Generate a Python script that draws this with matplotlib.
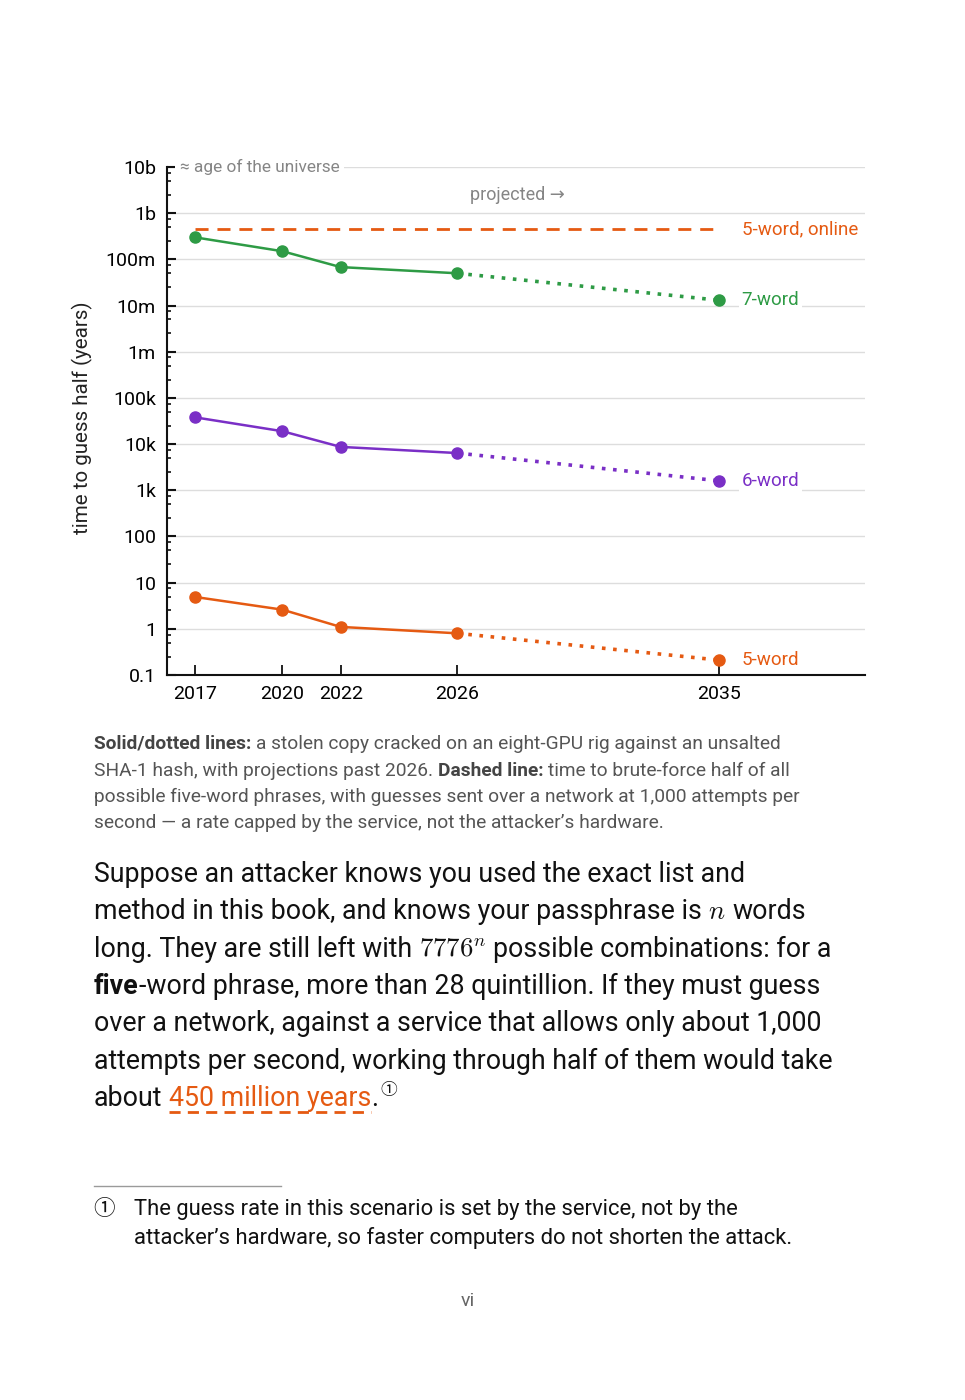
import matplotlib
matplotlib.use('Agg')
import matplotlib.pyplot as plt
import matplotlib.ticker as mticker
from matplotlib.lines import Line2D

plt.rcParams['font.family'] = ['Roboto', 'DejaVu Sans', 'Noto Sans CJK SC']
plt.rcParams['mathtext.fontset'] = 'cm'

# data (years to guess half the space)
years = [2017, 2020, 2022, 2026, 2035]
five_word = [4.9, 2.6, 1.1, 0.8, 0.21]
six_word = [3.8e4, 1.9e4, 8.7e3, 6.4e3, 1.6e3]
seven_word = [3.0e8, 1.5e8, 6.8e7, 5.0e7, 1.3e7]
online_5word = 4.5e8
ytick_vals = [0.1, 1, 10, 100, 1e3, 1e4, 1e5, 1e6, 1e7, 1e8, 1e9, 1e10]
ytick_labels = ['0.1', '1', '10', '100', '1k', '10k', '100k', '1m', '10m', '100m', '1b', '10b']

GREEN = '#2e9b45'
PURPLE = '#7a2fc6'
ORANGE = '#e55a12'
GREY = '#858585'

W, H = 965, 1400
fig = plt.figure(figsize=(W / 100, H / 100), dpi=100)
ax = fig.add_axes([167 / W, 1 - 675 / H, (865 - 167) / W, (675 - 167) / H])
ax.set_yscale('log')
ax.set_ylim(0.1, 1e10)
ax.set_xlim(2016.04, 2040)

for vals, col, name in [(seven_word, GREEN, '7-word'), (six_word, PURPLE, '6-word'), (five_word, ORANGE, '5-word')]:
    ax.plot(years[:4], vals[:4], color=col, lw=1.8, zorder=3)
    ax.plot(years[3:], vals[3:], color=col, lw=2.6, ls=(0, (1, 2.1)), zorder=3)
    ax.plot(years, vals, 'o', color=col, ms=8, zorder=4)
    ax.annotate(name, xy=(years[-1], vals[-1]), xytext=(16, 0), textcoords='offset points',
                va='center', ha='left', color=col, fontsize=13.5,
                bbox=dict(boxstyle='square,pad=0.15', fc='white', ec='none'))

ax.plot([years[0], years[-1]], [online_5word, online_5word], color=ORANGE, lw=2, dashes=(4.7, 3.2), zorder=3)
ax.annotate('5-word, online', xy=(years[-1], online_5word), xytext=(16, 0), textcoords='offset points',
            va='center', ha='left', color=ORANGE, fontsize=13.5)

ax.annotate('≈ age of the universe', xy=(0, 1e10), xycoords=('axes fraction', 'data'),
            xytext=(9, 0), textcoords='offset points', va='center', ha='left', color=GREY,
            fontsize=12.4, bbox=dict(boxstyle='square,pad=0.25', fc='white', ec='none'), zorder=5)
ax.text(2026.45, 2.5e9, 'projected →', color=GREY, fontsize=13, va='center', ha='left')

ax.yaxis.set_major_locator(mticker.FixedLocator(ytick_vals))
ax.yaxis.set_major_formatter(mticker.FixedFormatter(ytick_labels))
ax.yaxis.set_minor_locator(mticker.FixedLocator([m * 10.0 ** k for k in range(-1, 10) for m in (2.5, 5, 7.5)]))
ax.yaxis.set_minor_formatter(mticker.NullFormatter())
ax.set_xticks(years)
ax.set_xticklabels([str(y) for y in years])
ax.tick_params(axis='y', which='major', direction='in', length=6.5, width=1.5, labelsize=14, pad=8, color='#111')
ax.tick_params(axis='y', which='minor', direction='in', length=3.2, width=1.2, color='#111')
ax.tick_params(axis='x', direction='in', length=7, width=1.3, labelsize=14, pad=7, color='#111')

ax.grid(axis='y', which='major', color='#dddddd', lw=1)
ax.set_axisbelow(True)
for s in ['top', 'right']:
    ax.spines[s].set_visible(False)
for s in ['left', 'bottom']:
    ax.spines[s].set_linewidth(1.5)
    ax.spines[s].set_color('#111')

fig.text(82 / W, 1 - 418 / H, 'time to guess half (years)', rotation=90, ha='center', va='center',
         fontsize=14.8, color='#222')

# ---- text below the chart ----
r = fig.canvas.get_renderer()


def space_width(size, **kw):
    a = fig.text(0, 0, 'x x', fontsize=size, **kw)
    b = fig.text(0, 0, 'xx', fontsize=size, **kw)
    w = a.get_window_extent(r).width - b.get_window_extent(r).width
    a.remove()
    b.remove()
    return w


def put_runs(x, y, runs, size, color):
    sp = space_width(size)
    spans = []
    for s, style in runs:
        if s == ' ':
            x += sp
            continue
        kw = dict(fontsize=size, color=color, va='baseline', ha='left')
        kw.update(style)
        t = fig.text(x / W, 1 - y / H, s, **kw)
        w = t.get_window_extent(r).width
        spans.append((x, x + w))
        x += w
    return x, spans


B = dict(fontweight='bold')
N = {}
cap_col = '#555555'
cap_bold = dict(fontweight='bold', color='#444444')
caption = [
    [('Solid/dotted lines:', cap_bold), (' ', N), ('a stolen copy cracked on an eight-GPU rig against an unsalted', N)],
    [('SHA-1 hash, with projections past 2026.', N), (' ', N), ('Dashed line:', cap_bold), (' ', N),
     ('time to brute-force half of all', N)],
    [('possible five-word phrases, with guesses sent over a network at 1,000 attempts per', N)],
    [('second — a rate capped by the service, not the attacker’s hardware.', N)],
]
for i, line in enumerate(caption):
    put_runs(94, 749 + 26.5 * i, line, 13.8, cap_col)

body_col = '#111111'
body = [
    [('Suppose an attacker knows you used the exact list and', N)],
    [('method in this book, and knows your passphrase is', N), (' ', N), ('$n$', N), (' ', N), ('words', N)],
    [('long. They are still left with', N), (' ', N), ('$7776^n$', N), (' ', N),
     ('possible combinations: for a', N)],
    [('five', B), ('-word phrase, more than 28 quintillion. If they must guess', N)],
    [('over a network, against a service that allows only about 1,000', N)],
    [('attempts per second, working through half of them would take', N)],
    [('about', N), (' ', N), ('450 million years', dict(color=ORANGE)), ('.', N)],
]
for i, line in enumerate(body):
    x_end, spans = put_runs(94, 882 + 37.33 * i, line, 19.3, body_col)
    if i == len(body) - 1:
        x0, x1 = spans[1]
        fig.add_artist(Line2D([x0 / W, x1 / W], [1 - 1112 / H] * 2, color=ORANGE, lw=2,
                              dashes=(4, 2.6), transform=fig.transFigure))
        fig.text((x_end + 2) / W, 1 - 1095 / H, '①', fontsize=12, color=body_col, va='baseline',
                 ha='left', family=['Noto Sans CJK SC', 'DejaVu Sans'])

fig.add_artist(Line2D([94 / W, 281 / W], [1 - 1186 / H] * 2, color='#9a9a9a', lw=1,
                      transform=fig.transFigure))
fig.text(104 / W, 1 - 1215 / H, '①', fontsize=15.5, color=body_col, va='baseline', ha='center',
         family=['Noto Sans CJK SC', 'DejaVu Sans'])
foot = ['The guess rate in this scenario is set by the service, not by the',
        'attacker’s hardware, so faster computers do not shorten the attack.']
for i, s in enumerate(foot):
    fig.text(134 / W, 1 - (1215 + 29 * i) / H, s, fontsize=15.8, color=body_col, va='baseline', ha='left')

fig.text(468 / W, 1 - 1306 / H, 'vi', fontsize=14, color='#666666', va='baseline', ha='center')

fig.savefig('out.png', dpi=100)
